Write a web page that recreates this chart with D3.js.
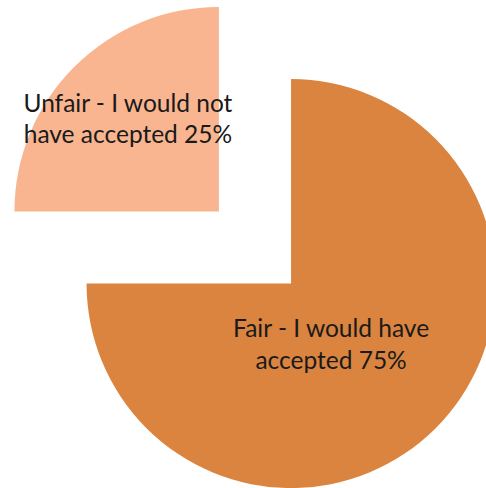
<!DOCTYPE html>
<html>
<head>
<meta charset="utf-8">
<script src="https://cdn.jsdelivr.net/npm/d3@7"></script>
<style>
  html, body { margin: 0; padding: 0; background: #ffffff; }
  svg { display: block; }
</style>
</head>
<body>
<svg id="chart" width="486" height="488"></svg>
<script>
// Survey answers, in clockwise order from 12 o'clock
const categories = ["Fair - I would have accepted", "Unfair - I would not have accepted"];
const values = [75, 25];
const labelLines = [["Fair - I would have", "accepted 75%"], ["Unfair - I would not", "have accepted 25%"]];
const colors = ["#DA843F", "#F8B58F"];

const width = 486, height = 488;
const cx = 255, cy = 247.5;     // pie centre
const radius = 204.5;
const explode = 51;             // distance each slice is pulled out

const svg = d3.select("#chart");

const pie = d3.pie().sort(null).value(d => d)(values);
const arc = d3.arc().innerRadius(0).outerRadius(radius);

const g = svg.append("g").attr("transform", `translate(${cx},${cy})`);

const slices = g.selectAll("g.slice")
  .data(pie)
  .join("g")
  .attr("class", "slice")
  .attr("transform", d => {
    const a = (d.startAngle + d.endAngle) / 2;
    return `translate(${Math.sin(a) * explode},${-Math.cos(a) * explode})`;
  });

slices.append("path")
  .attr("d", arc)
  .attr("fill", (d, i) => colors[i]);

// Label placement relative to each slice's apex (first baseline)
const labelPos = [[40, 53], [-91, -99.5]];
const lineGap = [32.5, 31];

slices.append("text")
  .attr("text-anchor", "middle")
  .attr("font-family", "Lato, 'Open Sans', sans-serif")
  .attr("font-size", 24.5)
  .attr("fill", "#1a1a1a")
  .each(function (d, i) {
    const t = d3.select(this);
    labelLines[i].forEach((line, k) => {
      t.append("tspan")
        .attr("x", labelPos[i][0])
        .attr("y", labelPos[i][1] + k * lineGap[i])
        .text(line);
    });
  });
</script>
</body>
</html>
